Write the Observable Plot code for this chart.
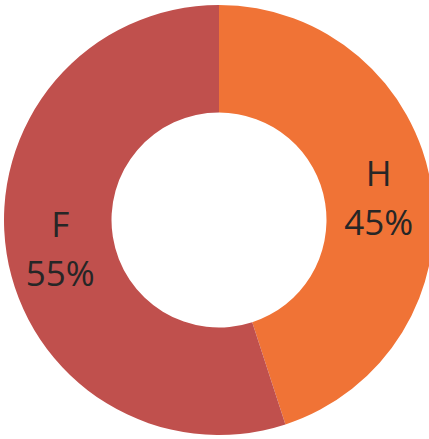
<!DOCTYPE html>
<html>
<head>
<meta charset="utf-8">
<script src="https://cdn.jsdelivr.net/npm/d3@7"></script>
<script src="https://cdn.jsdelivr.net/npm/@observablehq/plot@0.6"></script>
<style>
  html, body { margin: 0; padding: 0; background: #fff; }
  #chart svg { display: block; }
</style>
</head>
<body>
<div id="chart"></div>
<script>
const categories = ["H", "F"];
const values = [45, 55];
const colors = ["#F07336", "#C0504D"];

const data = categories.map((c, i) => ({ cat: c, value: values[i] }));
const pie = d3.pie().sort(null).value(d => d.value)(data);
const innerFrac = 0.5;
const labelR = (1 + innerFrac) / 2;
const labels = pie.map(p => {
  const a = (p.startAngle + p.endAngle) / 2;
  return {
    cat: p.data.cat,
    x: labelR * Math.sin(a),
    y: labelR * Math.cos(a),
    text: `${p.data.cat}\n${Math.round(p.data.value / d3.sum(values) * 100)}%`
  };
});

function donut(index, scales, values_, dimensions, context) {
  const cx = scales.x(0), cy = scales.y(0);
  const r = scales.x(1) - scales.x(0);
  const arc = d3.arc().innerRadius(r * innerFrac).outerRadius(r);
  const g = d3.create("svg:g").attr("transform", `translate(${cx},${cy})`);
  g.selectAll("path").data(pie).join("path")
    .attr("d", arc)
    .attr("fill", d => scales.color(d.data.cat));
  return g.node();
}

const plot = Plot.plot({
  width: 429,
  height: 439,
  margin: 0,
  x: { domain: [-1, 1], range: [4, 434], axis: null },
  y: { domain: [-1, 1], range: [435, 5], axis: null },
  color: { domain: categories, range: colors },
  style: { fontFamily: "'Open Sans', sans-serif", background: "#fff" },
  marks: [
    donut,
    Plot.text(labels, {
      x: "x", y: "y", text: "text",
      fontSize: 35, lineHeight: 1.4, fill: "#262626"
    })
  ]
});
document.getElementById("chart").appendChild(plot);
</script>
</body>
</html>
